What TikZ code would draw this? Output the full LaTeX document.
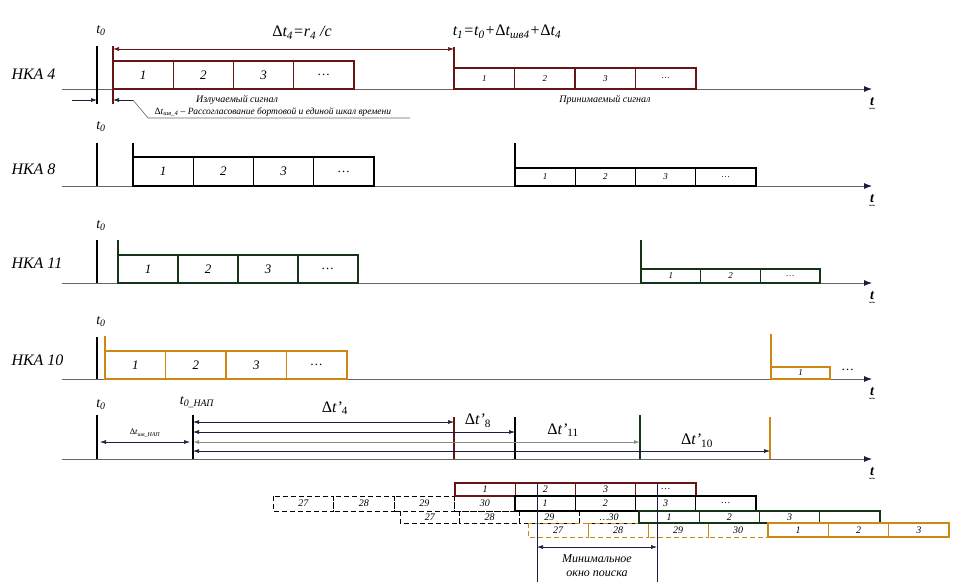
\documentclass[tikz,border=0pt]{standalone}
\usepackage{fontspec}
\setmainfont{Liberation Serif}
\usetikzlibrary{arrows.meta}
\definecolor{darkRed}{RGB}{105,20,20}
\definecolor{darkGreen}{RGB}{22,52,22}
\definecolor{goldOrange}{RGB}{204,136,17}
\definecolor{arrowNavy}{RGB}{25,30,65}
\newcommand{\packet}[8]{%
  \foreach \lab [count=\i from 0] in {#8}{
    \draw[#6] ({#2+\i*#5},#3) rectangle ({#2+(\i+1)*#5},#4);
    \node[#7] (#1-\i) at ({#2+(\i+0.5)*#5},{(#3+#4)/2}) {\lab};
  }}

\begin{document}
\begin{tikzpicture}[x=1pt,y=-1pt,
  axis/.style={draw=black!60, line width=0.8pt, -{Latex[length=8pt,width=6pt,color=arrowNavy]}},
  t0line/.style={draw=black, line width=1.4pt},
  sig4/.style={draw=darkRed, line width=1.3pt},
  sig8/.style={draw=black, line width=1.3pt},
  sig11/.style={draw=darkGreen, line width=1.3pt},
  sig10/.style={draw=goldOrange, line width=1.3pt},
  ghost/.style={line width=1pt, dash pattern=on 5pt off 3pt},
  dim/.style={draw=arrowNavy, line width=0.6pt},
  dimboth/.style={{Latex[length=6pt,width=4pt]}-{Latex[length=6pt,width=4pt]}},
  dimone/.style={-{Latex[length=6pt,width=4pt]}},
  nka/.style={font=\fontsize{16}{18}\selectfont\itshape, anchor=west},
  tlbl/.style={font=\fontsize{14}{16}\selectfont\itshape},
  formula/.style={font=\fontsize{16}{18}\selectfont\itshape},
  bignum/.style={font=\fontsize{13}{15}\selectfont\itshape},
  smallnum/.style={font=\fontsize{9}{10}\selectfont\itshape},
  tinynum/.style={font=\fontsize{10}{11}\selectfont\itshape},
  caption/.style={font=\fontsize{10}{12}\selectfont\itshape},
  taxis/.style={font=\fontsize{14}{14}\selectfont\bfseries\itshape, inner sep=1pt}]
\useasboundingbox (0,0) rectangle (960,582);

\foreach \y/\n in {89/a,186/b,283/c,379/d,459/e}{
  \draw[axis] (62,\y) coordinate (ax\n) -- (872,\y) coordinate (end\n)
    node[taxis, below=7pt] (t\n) {t};
  \draw[line width=0.4pt] ([xshift=-3pt,yshift=-1pt]t\n.south)
    sin ++(1.5,1) cos ++(1.5,-1) sin ++(1.5,1) cos ++(1.5,-1);
}

% NKA 4
\node[nka] (nka4) at (8,74) {НКА 4};
\node[tlbl] (t0a) at (101,31) {t\textsubscript{0}};
\draw[t0line] (97,46) -- (97,104);
\draw[sig4] (113,46) coordinate (s4) -- (113,104);
\packet{e4}{113}{61}{89}{60.25}{sig4}{bignum}{1,2,3,\ldots}
\draw[sig4] (454,47) coordinate (r4) -- (454,89);
\packet{r4}{454}{68}{89}{60.5}{sig4}{smallnum}{1,2,3,\ldots}
\draw[draw=darkRed, line width=0.6pt, dimboth] (113,49) -- (454,49);
\node[formula] (dt4) at (302,33) {{\upshape Δ}t\textsubscript{4}=r\textsubscript{4} /c};
\node[formula] (t1) at (507,32) {t\textsubscript{1}=t\textsubscript{0}+{\upshape Δ}t\textsubscript{шв4}+{\upshape Δ}t\textsubscript{4}};
\draw[dim, dimone] (72,100) -- (97,100);
\draw[dim, dimone] (133,100) coordinate (lead) -- (113,100);
\draw[dim, draw=black!60] (lead) -- (148,118) -- (410,118);
\node[caption] (emit) at (237,100) {Излучаемый сигнал};
\node[caption, font=\fontsize{9.5}{11}\selectfont\itshape, anchor=west] (shv4) at (151,112)
  {{\upshape Δ}t\textsubscript{шв\_4} – Рассогласование бортовой и единой шкал времени};
\node[caption] (recv) at (605,100) {Принимаемый сигнал};

% NKA 8
\node[nka] (nka8) at (8,169) {НКА 8};
\node[tlbl] (t0b) at (101,127) {t\textsubscript{0}};
\draw[t0line] (97,143) -- (97,186);
\draw[sig8] (133,143) -- (133,186);
\packet{e8}{133}{157}{186}{60.25}{sig8}{bignum}{1,2,3,\ldots}
\draw[sig8] (515,143) -- (515,186);
\packet{r8}{515}{168}{186}{60.25}{sig8}{smallnum}{1,2,3,\ldots}

% NKA 11
\node[nka] (nka11) at (8,263) {НКА 11};
\node[tlbl] (t0c) at (101,226) {t\textsubscript{0}};
\draw[t0line] (97,240) -- (97,283);
\draw[sig11] (118,240) -- (118,283);
\packet{e11}{118}{255}{283}{60}{sig11}{bignum}{1,2,3,\ldots}
\draw[sig11] (641,240) -- (641,283);
\packet{r11}{641}{269}{283}{59.7}{sig11}{smallnum}{1,2,\ldots}

% NKA 10
\node[nka] (nka10) at (8,360) {НКА 10};
\node[tlbl] (t0d) at (101,322) {t\textsubscript{0}};
\draw[t0line] (97,337) -- (97,379);
\draw[sig10] (105,336) -- (105,379);
\packet{e10}{105}{351}{379}{60.5}{sig10}{bignum}{1,2,3,\ldots}
\draw[sig10] (771,334) -- (771,379);
\packet{r10}{771}{367}{379}{59}{sig10}{smallnum}{1}
\node[bignum] (more10) at (848,370) {\ldots};

% NAP
\node[tlbl] (t0e) at (101,405) {t\textsubscript{0}};
\node[tlbl] (tnap) at (197,402) {t\textsubscript{0\_НАП}};
\draw[t0line] (97,415) -- (97,459);
\draw[t0line] (193,415) coordinate (nap) -- (193,459);
\draw[sig4] (454,417) -- (454,459);
\draw[sig8] (515,417) -- (515,459);
\draw[sig11] (640,415) -- (640,459);
\draw[sig10] (770,417) -- (770,459);
\draw[dim, dimboth] (100,442) -- (190,442);
\node[caption, font=\fontsize{8.5}{10}\selectfont\itshape] (shvnap) at (145,433) {{\upshape Δ}t\textsubscript{шв\_НАП}};
\draw[dim, dimboth] (193,422) -- (454,422);
\draw[dim, dimboth] (193,432) -- (515,432);
\draw[dim, dimboth, draw=black!45, line width=1pt] (193,442) -- (640,442);
\draw[dim, dimboth] (193,451) -- (770,451);
\node[formula, font=\fontsize{16}{18}\selectfont] (dp4) at (335,408) {{Δ}\textit{t'}\textsubscript{4}};
\node[formula, font=\fontsize{16}{18}\selectfont] (dp8) at (478,421) {{Δ}\textit{t'}\textsubscript{8}};
\node[formula, font=\fontsize{16}{18}\selectfont] (dp11) at (563,430) {{Δ}\textit{t'}\textsubscript{11}};
\node[formula, font=\fontsize{16}{18}\selectfont] (dp10) at (697,441) {{Δ}\textit{t'}\textsubscript{10}};

% received packets side by side
\packet{g8}{273}{496}{511}{60.5}{sig8,ghost}{tinynum}{27,28,29,30}
\packet{g11}{400}{511}{523}{59.75}{sig8,ghost}{tinynum}{27,28,29,\ldots30}
\packet{g10}{528}{523}{537}{60}{sig10,ghost}{tinynum}{27,28,29,30}
\packet{b4}{455}{483}{496}{60.25}{sig4}{tinynum}{1,2,3,\ldots}
\packet{b8}{515}{496}{511}{60.25}{sig8}{tinynum}{1,2,3,\ldots}
\packet{b11}{639}{511}{523}{60.25}{sig11}{tinynum}{1,2,3,{}}
\packet{b10}{768}{523}{537}{60.33}{sig10}{tinynum}{1,2,3}
\draw[dim] (537,483) coordinate (w1) -- (537,582);
\draw[dim] (657,483) coordinate (w2) -- (657,582);
\draw[dim, dimboth] (537,547) -- (657,547);
\node[caption, font=\fontsize{12}{14}\selectfont\itshape, align=center] (window) at (597,566) {Минимальное\\окно поиска};
\end{tikzpicture}
\end{document}
